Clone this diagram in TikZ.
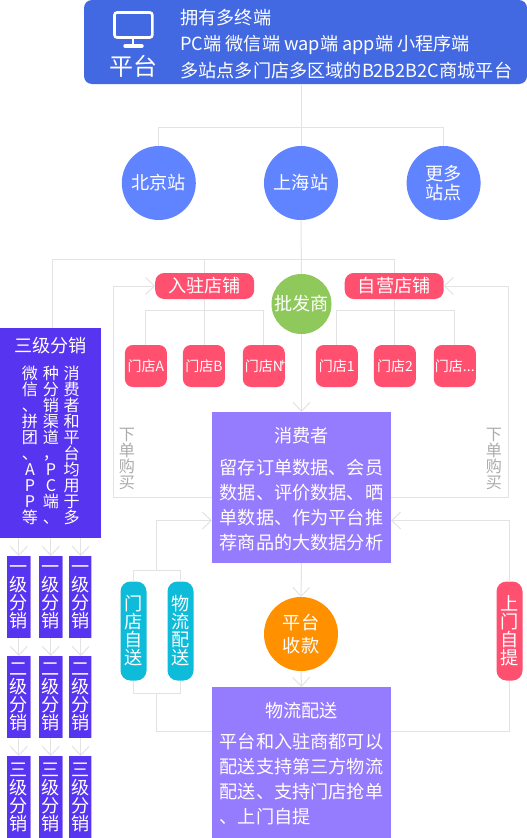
\documentclass[tikz,border=0pt]{standalone}
\usepackage{fontspec}
\setmainfont{Noto Sans CJK SC}
\usetikzlibrary{positioning,arrows.meta,shapes}
\definecolor{platblue}{HTML}{4268E2}
\definecolor{stnblue}{HTML}{6083FF}
\definecolor{shopred}{HTML}{FF5070}
\definecolor{salegreen}{HTML}{8FC95C}
\definecolor{lvlblue}{HTML}{5634F0}
\definecolor{userpurple}{HTML}{957BFE}
\definecolor{sendcyan}{HTML}{0EBBD8}
\definecolor{payorange}{HTML}{FF9000}
\definecolor{wire}{HTML}{E3E3E3}
\begin{document}
\begin{tikzpicture}[
  x=1pt, y=-1pt,
  every node/.style={inner sep=0pt, outer sep=0pt},
  fs/.style={font=\fontsize{#1}{#1}\selectfont},
  txt/.style={text=white, align=center, fs=18.15},
  stn/.style={circle, txt, minimum size=74pt, fill=stnblue},
  shop/.style={rectangle, rounded corners=9pt, txt, minimum width=99pt, minimum height=26pt, fill=shopred},
  store/.style={rectangle, rounded corners=8pt, txt, fs=14, minimum width=42pt, minimum height=42pt, fill=shopred},
  user/.style={rectangle, minimum width=179pt, minimum height=151pt, fill=userpurple},
  usertxt/.style={txt, align=left, font=\fontsize{18.15}{25}\selectfont},
  send/.style={rectangle, rounded corners=10pt, txt, font=\fontsize{18.15}{18}\selectfont, minimum width=26pt, minimum height=99pt},
  lvl/.style={rectangle, txt, font=\fontsize{18.15}{18}\selectfont, minimum width=23.5pt, minimum height=82pt, fill=lvlblue,
              path picture={\fill[white,opacity=.65] ([xshift=-1pt]path picture bounding box.north east) rectangle (path picture bounding box.south east);}},
  col/.style={txt, font=\fontsize{16.1}{16}\selectfont, anchor=north},
  buy/.style={align=center, font=\fontsize{16.1}{16}\selectfont, text=black!33},
  lin/.style={draw=wire, line width=1pt},
  arr/.style={lin, -{Straight Barb[length=9pt, width=17pt]}}
]
\useasboundingbox (0,0) rectangle (527,838);

% top
\node[rectangle, rounded corners=8pt, fill=platblue, minimum width=443pt, minimum height=84pt] (plat) at (305.5,42) {};
\node[txt, fs=24] (platname) at (133,66) {平台};
\node[txt, align=left, font=\fontsize{18.15}{26.5}\selectfont, anchor=west] (plattxt) at (180.5,44) {拥有多终端\\PC端 微信端 wap端 app端 小程序端\\多站点多门店多区域的B2B2B2C商城平台};
\draw[white, line width=2.6pt, rounded corners=2.5pt] (114.5,12.5) rectangle (152.3,37.5);
\draw[white, line width=2.6pt] (133,38) -- (133,46);
\draw[white, line width=3.4pt, line cap=round] (125,46) -- (142,46);

\node[stn] (bei)   at (158.8,183) {北京站};
\node[stn] (shang) at (301,183) {上海站};
\node[stn] (geng)  at (443.6,183) {更多\\站点};

% shops
\node[shop] (ruzhu) at (204.7,286) {入驻店铺};
\node[shop] (ziying) at (394.2,286) {自营店铺};
\node[circle, txt, minimum size=60pt, fill=salegreen] (pifa) at (301.5,304) {批发商};

\node[store] (stA) at (145.9,366) {门店A};
\node[store] (stB) at (203.9,366) {门店B};
\node[store] (stN) at (263.8,366) {门店N\kern-3pt\raisebox{5pt}{\fontsize{10}{10}\selectfont +}\kern-3pt};
\node[store] (st1) at (336.8,366) {门店1};
\node[store] (st2) at (394.9,366) {门店2};
\node[store] (st3) at (454.8,366) {门店...};

% purple boxes
\node[user] (xiaofei) at (301.5,487.5) {};
\node[usertxt] (xiaofeitxt) at (301.5,489.5) {\makebox[163pt][c]{消费者}\\[7pt]留存订单数据、会员\\数据、评价数据、晒\\单数据、作为平台推\\荐商品的大数据分析};
\node[user] (peisong) at (301.5,762.5) {};
\node[usertxt] (peisongtxt) at (301.5,763.5) {\makebox[163pt][c]{物流配送}\\[6pt]平台和入驻商都可以\\配送支持第三方物流\\配送、支持门店抢单\\、上门自提};

\node[circle, txt, minimum size=74pt, fill=payorange, font=\fontsize{18.15}{23}\selectfont] (shoukuan) at (301,634) {平台\\收款};
\node[send, fill=sendcyan] (mendian) at (133.5,631) {门\\店\\自\\送};
\node[send, fill=sendcyan] (wuliu) at (180.5,631) {物\\流\\配\\送};
\node[send, fill=shopred] (shangmen) at (509.5,631) {上\\门\\自\\提};

\node[buy] (buyL) at (127,459) {下\\单\\购\\买};
\node[buy] (buyR) at (494,459) {下\\单\\购\\买};

% distribution
\node[rectangle, fill=lvlblue, minimum width=101pt, minimum height=210pt] (fen) at (50.5,433) {};
\node[txt] (fentitle) at (50.5,346) {三级分销};
\node[col] (colA) at (30,366) {微\\信\\、\\拼\\团\\、\\A\\P\\P\\等};
\node[col] (colB) at (51,366) {种\\分\\销\\渠\\道\\，\\P\\C\\端\\、};
\node[col] (colC) at (71.6,366) {消\\费\\者\\和\\平\\台\\均\\用\\于\\多};

\node[lvl] (a1) at (18.8,597) {一\\级\\分\\销};
\node[lvl] (b1) at (50.8,597) {一\\级\\分\\销};
\node[lvl] (c1) at (80.7,597) {一\\级\\分\\销};
\node[lvl] (a2) at (18.8,697) {二\\级\\分\\销};
\node[lvl] (b2) at (50.8,697) {二\\级\\分\\销};
\node[lvl] (c2) at (80.7,697) {二\\级\\分\\销};
\node[lvl] (a3) at (18.8,797) {三\\级\\分\\销};
\node[lvl] (b3) at (50.8,797) {三\\级\\分\\销};
\node[lvl] (c3) at (80.7,797) {三\\级\\分\\销};

\coordinate (hubS) at (301,127.5);
\coordinate (hubB) at (301,259.5);
\coordinate (hubL) at (52.4,259.5);
\coordinate (barL) at (145.9,310.5);
\coordinate (barR) at (336.8,310.5);
\coordinate (backL) at (113.6,497.5);
\coordinate (backR) at (508.5,497.5);
\coordinate (inL) at (156.3,520.5);
\coordinate (inR) at (508.5,520.5);
\coordinate (brkT) at (156.3,570.5);
\coordinate (brkB) at (156.3,693.5);
\coordinate (outY) at (156.3,731.5);

\draw[lin] (shang.north |- plat.south) -- (shang.north);
\draw[lin] (bei.north) -- (bei.north |- hubS) -- (geng.north |- hubS) -- (geng.north);
\draw[lin] (shang.south) -- (pifa.north);
\draw[lin] (fen.north -| hubL) -- (hubL) -- (ziying.north |- hubB) -- (ziying.north);
\draw[lin] (ruzhu.north) -- (ruzhu.north |- hubB);
\draw[arr] (pifa.south) -- (xiaofei.north);

\draw[lin] (stA.north) -- (stA.north |- barL) -- (stN.north |- barL) -- (stN.north);
\draw[lin] (ruzhu.south) -- (ruzhu.south |- stB.north);
\draw[lin] (st1.north) -- (st1.north |- barR) -- (st3.north |- barR) -- (st3.north);
\draw[lin] (ziying.south) -- (ziying.south |- st2.north);

\draw[arr] (backL -| xiaofei.west) -- (backL) |- (ruzhu.west);
\draw[arr] (backR -| xiaofei.east) -- (backR) |- (ziying.east);

\draw[lin] (mendian.north) -- (mendian.north |- brkT) -- (wuliu.north |- brkT) -- (wuliu.north);
\draw[lin] (mendian.south) -- (mendian.south |- brkB) -- (wuliu.south |- brkB) -- (wuliu.south);
\draw[arr] (brkT) |- (inL -| xiaofei.west);
\draw[arr] (shangmen.north) |- (inR -| xiaofei.east);
\draw[lin] (brkB) |- (outY -| peisong.west);
\draw[lin] (shangmen.south) |- (outY -| peisong.east);

\draw[arr] (xiaofei.south) -- (shoukuan.north);
\draw[arr] (shoukuan.south) -- (peisong.north);

\draw[arr] (a1.north |- fen.south) -- (a1.north);
\draw[arr] (b1.north |- fen.south) -- (b1.north);
\draw[arr] (c1.north |- fen.south) -- (c1.north);
\draw[arr] (a1.south) -- (a2.north);
\draw[arr] (b1.south) -- (b2.north);
\draw[arr] (c1.south) -- (c2.north);
\draw[arr] (a2.south) -- (a3.north);
\draw[arr] (b2.south) -- (b3.north);
\draw[arr] (c2.south) -- (c3.north);
\end{tikzpicture}
\end{document}
